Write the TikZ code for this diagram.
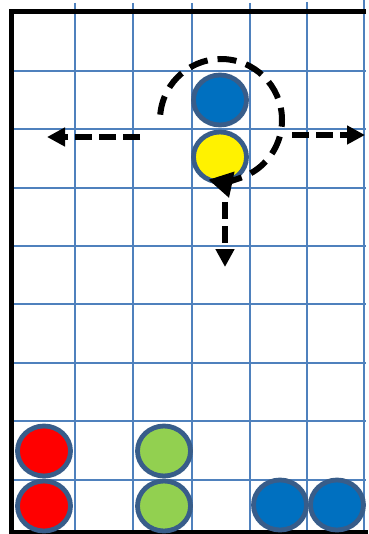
\documentclass[tikz,border=0pt]{standalone}
\usepackage{xcolor}
\usepackage{tikz}
\usetikzlibrary{arrows.meta,shapes.geometric}
\definecolor{gridblue}{HTML}{4F81BD}
\definecolor{ringblue}{HTML}{385D8A}
\definecolor{ballblue}{HTML}{0070C0}
\definecolor{ballgreen}{HTML}{92D050}

\begin{document}
\begin{tikzpicture}[x=1pt, y=-1pt,
        gridline/.style={gridblue, line width=2pt},
        wall/.style={black, line width=5pt},
        ball/.style={ellipse, draw=ringblue, line width=4.8pt, inner sep=0pt,
                     minimum width=53pt, minimum height=50pt},
        bb/.style={ball, fill=ballblue},
        by/.style={ball, fill=yellow},
        br/.style={ball, fill=red},
        bg/.style={ball, fill=ballgreen},
        move/.style={-{Triangle[length=18pt, width=18pt]}, line width=5.6pt,
                     dash pattern=on 17pt off 7pt},
        spin/.style={-{Triangle[length=24pt, width=25pt]}, line width=6pt,
                     dash pattern=on 19pt off 10pt}
    ]
        \useasboundingbox (0,0) rectangle (368,534);

        \foreach \gx/\gy in {75/3, 133/3, 192/3, 250/3, 307/2, 364/0}
            \draw[gridline] (\gx,\gy) -- (\gx,534);
        \foreach \gy in {71, 129, 188, 246, 304, 363, 421, 480}
            \draw[gridline] (11,\gy) -- (366,\gy);
        \draw[wall] (366,12) -- (11,12) -- (11,532) -- (368,532);

        \node[bb] (fallblue) at (220,100) {};
        \node[by] (fallyellow) at (220,157) {};

        \node[br] (redup) at (44,451) {};
        \node[br] (reddown) at (44,506) {};
        \node[bg] (greenup) at (164,451) {};
        \node[bg] (greendown) at (164,506) {};
        \node[bb] (blueleft) at (280,505) {};
        \node[bb] (blueright) at (337,505) {};

        \coordinate (pivot) at (221,120);
        \coordinate (leftfrom) at (140,137);
        \coordinate (leftto) at (47,137);
        \coordinate (rightfrom) at (292,135);
        \coordinate (rightto) at (365,135);
        \coordinate (downfrom) at (225,202);
        \coordinate (downto) at (225,267);

        \draw[move] (leftfrom) -- (leftto);
        \draw[move] (rightfrom) -- (rightto);
        \draw[move] (downfrom) -- (downto);
        \draw[spin] ([shift={(-175:61)}]pivot) arc[start angle=-175, end angle=102, radius=61];
    \end{tikzpicture}
\end{document}
